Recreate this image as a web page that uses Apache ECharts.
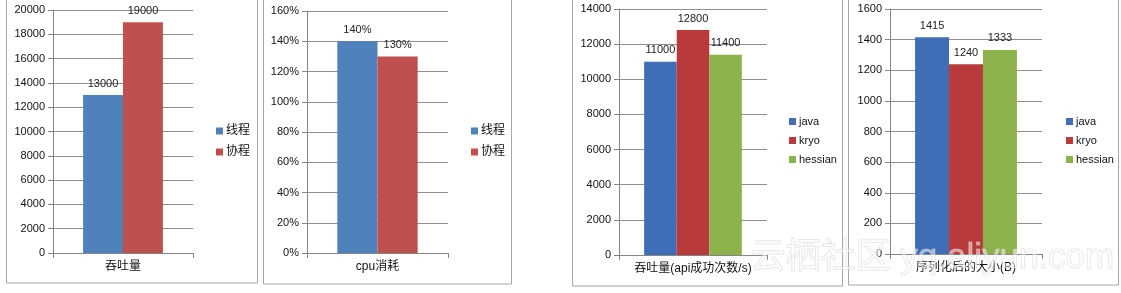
<!DOCTYPE html>
<html><head><meta charset="utf-8">
<script src="https://cdn.jsdelivr.net/npm/echarts@6/dist/echarts.min.js"></script>
<style>html,body{margin:0;padding:0;background:#fff;}#c{width:1121px;height:293px;}</style>
</head><body><div id="c"></div>
<script>
// ---- data ----
const p1Category = ['吞吐量'];
const p1Names = ['线程', '协程'];
const p1Thread = [13000];
const p1Coroutine = [19000];
const p1Ticks = { min: 0, max: 20000, interval: 2000 };

const p2Category = ['cpu消耗'];
const p2Thread = [140];
const p2Coroutine = [130];
const p2Ticks = { min: 0, max: 160, interval: 20 };

const p3Category = ['吞吐量(api成功次数/s)'];
const p3Names = ['java', 'kryo', 'hessian'];
const p3Java = [11000];
const p3Kryo = [12800];
const p3Hessian = [11400];
const p3Ticks = { min: 0, max: 14000, interval: 2000 };

const p4Category = ['序列化后的大小(B)'];
const p4Java = [1415];
const p4Kryo = [1240];
const p4Hessian = [1333];
const p4Ticks = { min: 0, max: 1600, interval: 200 };

// ---- styling ----
const FONT = 'Liberation Sans, Noto Sans CJK SC, sans-serif';
const C1 = { blue: '#4F81BD', red: '#C0504D' };
const C3 = { blue: '#3F6EB7', red: '#B93A3A', green: '#8DB14B' };
const axisGray = '#868686';

const grids = [
  { left: 53, top: 10, width: 140, height: 243 },
  { left: 307, top: 11, width: 141, height: 242 },
  { left: 619, top: 9, width: 148, height: 246 },
  { left: 890, top: 9, width: 152, height: 245 }
];

function xAxis(i, data) {
  return {
    type: 'category', gridIndex: i, data: data,
    axisLine: { lineStyle: { color: axisGray, width: 1 } },
    axisTick: { show: true, length: 5, lineStyle: { color: axisGray } },
    axisLabel: { color: '#111', fontSize: 12, fontFamily: FONT, margin: 8 }
  };
}
function yAxis(i, t, suffix) {
  return {
    type: 'value', gridIndex: i, min: t.min, max: t.max, interval: t.interval,
    axisLine: { show: true, lineStyle: { color: axisGray } },
    axisTick: { show: true, length: 5, lineStyle: { color: axisGray } },
    splitLine: { show: true, lineStyle: { color: '#8f8f8f', width: 1 } },
    axisLabel: { color: '#111', fontSize: 11, fontFamily: FONT, margin: 8,
      formatter: function (v) { return String(v) + (suffix || ''); } }
  };
}
function bar(name, i, data, color, gap, suffix) {
  return {
    type: 'bar', name: name, xAxisIndex: i, yAxisIndex: i, data: data,
    barGap: '0%', barCategoryGap: gap,
    itemStyle: { color: color },
    label: { show: true, position: 'top', distance: 6, color: '#222', fontSize: 11, fontFamily: FONT,
      formatter: function (p) { return String(p.value) + (suffix || ''); } },
    emphasis: { disabled: true }, animation: false
  };
}
function legend(data, left, top, gap, fs) {
  return {
    orient: 'vertical', left: left, top: top, data: data,
    icon: 'rect', itemWidth: 7, itemHeight: 7, itemGap: gap,
    textStyle: { color: '#111', fontSize: fs, fontFamily: FONT, padding: [0, 0, 0, -2] },
    selectedMode: false
  };
}

const chart = echarts.init(document.getElementById('c'), null, { renderer: 'canvas' });
chart.setOption({
  animation: false,
  backgroundColor: '#fff',
  grid: grids,
  xAxis: [xAxis(0, p1Category), xAxis(1, p2Category), xAxis(2, p3Category), xAxis(3, p4Category)],
  yAxis: [yAxis(0, p1Ticks), yAxis(1, p2Ticks, '%'), yAxis(2, p3Ticks), yAxis(3, p4Ticks)],
  legend: [
    legend(p1Names, 211, 120, 9, 12),
    legend(p1Names, 466, 120, 9, 12),
    legend(p3Names, 784, 111, 8, 11),
    legend(p3Names, 1061, 111, 8, 11)
  ],
  series: [
    bar('线程', 0, p1Thread, C1.blue, '43%'),
    bar('协程', 0, p1Coroutine, C1.red, '43%'),
    bar('线程', 1, p2Thread, C1.blue, '43%', '%'),
    bar('协程', 1, p2Coroutine, C1.red, '43%', '%'),
    bar('java', 2, p3Java, C3.blue, '34%'),
    bar('kryo', 2, p3Kryo, C3.red, '34%'),
    bar('hessian', 2, p3Hessian, C3.green, '34%'),
    bar('java', 3, p4Java, C3.blue, '33%'),
    bar('kryo', 3, p4Kryo, C3.red, '33%'),
    bar('hessian', 3, p4Hessian, C3.green, '33%')
  ],
  graphic: [
    { type: 'rect', silent: true, z: -1, shape: { x: 6.5, y: -10, width: 251, height: 293 }, style: { fill: 'none', stroke: '#a6a6a6', lineWidth: 1 } },
    { type: 'rect', silent: true, z: -1, shape: { x: 263.5, y: -10, width: 248, height: 294 }, style: { fill: 'none', stroke: '#a6a6a6', lineWidth: 1 } },
    { type: 'rect', silent: true, z: -1, shape: { x: 572.5, y: -10, width: 270, height: 296 }, style: { fill: 'none', stroke: '#a6a6a6', lineWidth: 1 } },
    { type: 'rect', silent: true, z: -1, shape: { x: 848.5, y: -10, width: 270, height: 295 }, style: { fill: 'none', stroke: '#a6a6a6', lineWidth: 1 } },
    { type: 'text', silent: true, z: 100, left: 750, top: 240,
      style: { text: '云栖社区 yq.aliyun.com', fontSize: 35, fontFamily: FONT, fill: 'rgba(255,255,255,0.5)', stroke: 'rgba(200,200,200,0.55)', lineWidth: 1 } }
  ]
});
</script></body></html>
